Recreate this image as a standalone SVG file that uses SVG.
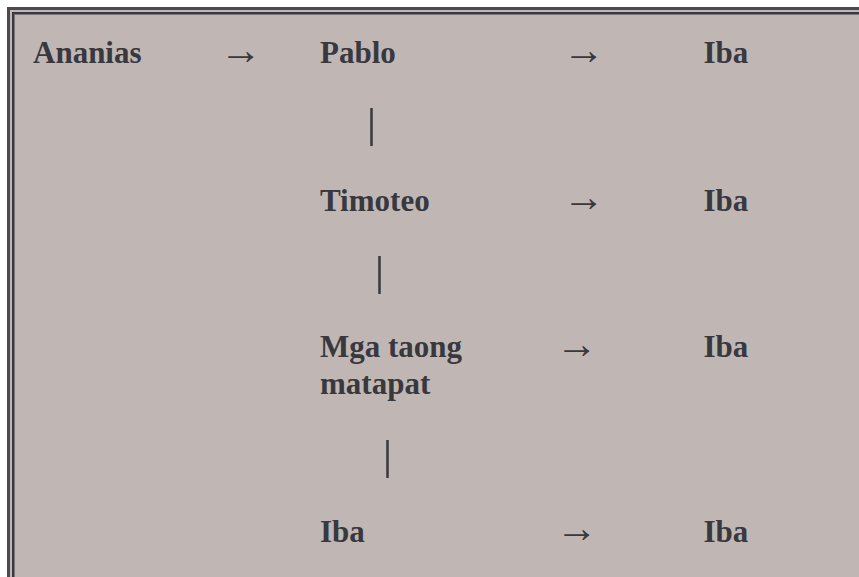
<svg xmlns="http://www.w3.org/2000/svg" width="859" height="577" viewBox="0 0 859 577">
<style>
.t{font-family:"Liberation Serif","Times New Roman",serif;font-weight:bold;font-size:31px;fill:#38383e}
.a{font-family:"Liberation Serif","DejaVu Serif",serif;font-size:42px;fill:#38383e}
.c line{stroke:#38383e;stroke-width:2.5}
</style>
<rect x="0" y="0" width="859" height="577" fill="#ffffff"/>
<rect x="7" y="7" width="860" height="580" fill="#c0b7b4"/>
<rect x="8.5" y="8.5" width="860" height="580" fill="none" stroke="#4a4a4f" stroke-width="3"/>
<rect x="13" y="13" width="860" height="580" fill="none" stroke="#38383e" stroke-width="2"/>
<rect x="14.5" y="14.5" width="860" height="580" fill="none" stroke="#77767a" stroke-width="1"/>
<g id="n-ananias"><text class="t" x="33" y="63">Ananias</text></g>
<g id="n-pablo"><text class="t" x="320" y="63">Pablo</text></g>
<g id="n-iba1"><text class="t" x="703.5" y="63">Iba</text></g>
<g id="n-timoteo"><text class="t" x="320" y="211">Timoteo</text></g>
<g id="n-iba2"><text class="t" x="703.5" y="211">Iba</text></g>
<g id="n-mga"><text class="t" x="320" y="357">Mga taong</text><text class="t" x="320" y="394">matapat</text></g>
<g id="n-iba3"><text class="t" x="703.5" y="357">Iba</text></g>
<g id="n-iba4a"><text class="t" x="320" y="541.5">Iba</text></g>
<g id="n-iba4b"><text class="t" x="703.5" y="541.5">Iba</text></g>
<g id="connectors" class="c">
<text class="a" x="219.5" y="64">→</text>
<text class="a" x="562.5" y="64">→</text>
<text class="a" x="562.5" y="211">→</text>
<text class="a" x="555.5" y="358">→</text>
<text class="a" x="555.5" y="542">→</text>
<line x1="371.5" y1="108" x2="371.5" y2="146"/>
<line x1="379.5" y1="256" x2="379.5" y2="294"/>
<line x1="387.5" y1="440" x2="387.5" y2="478"/>
</g>
</svg>
